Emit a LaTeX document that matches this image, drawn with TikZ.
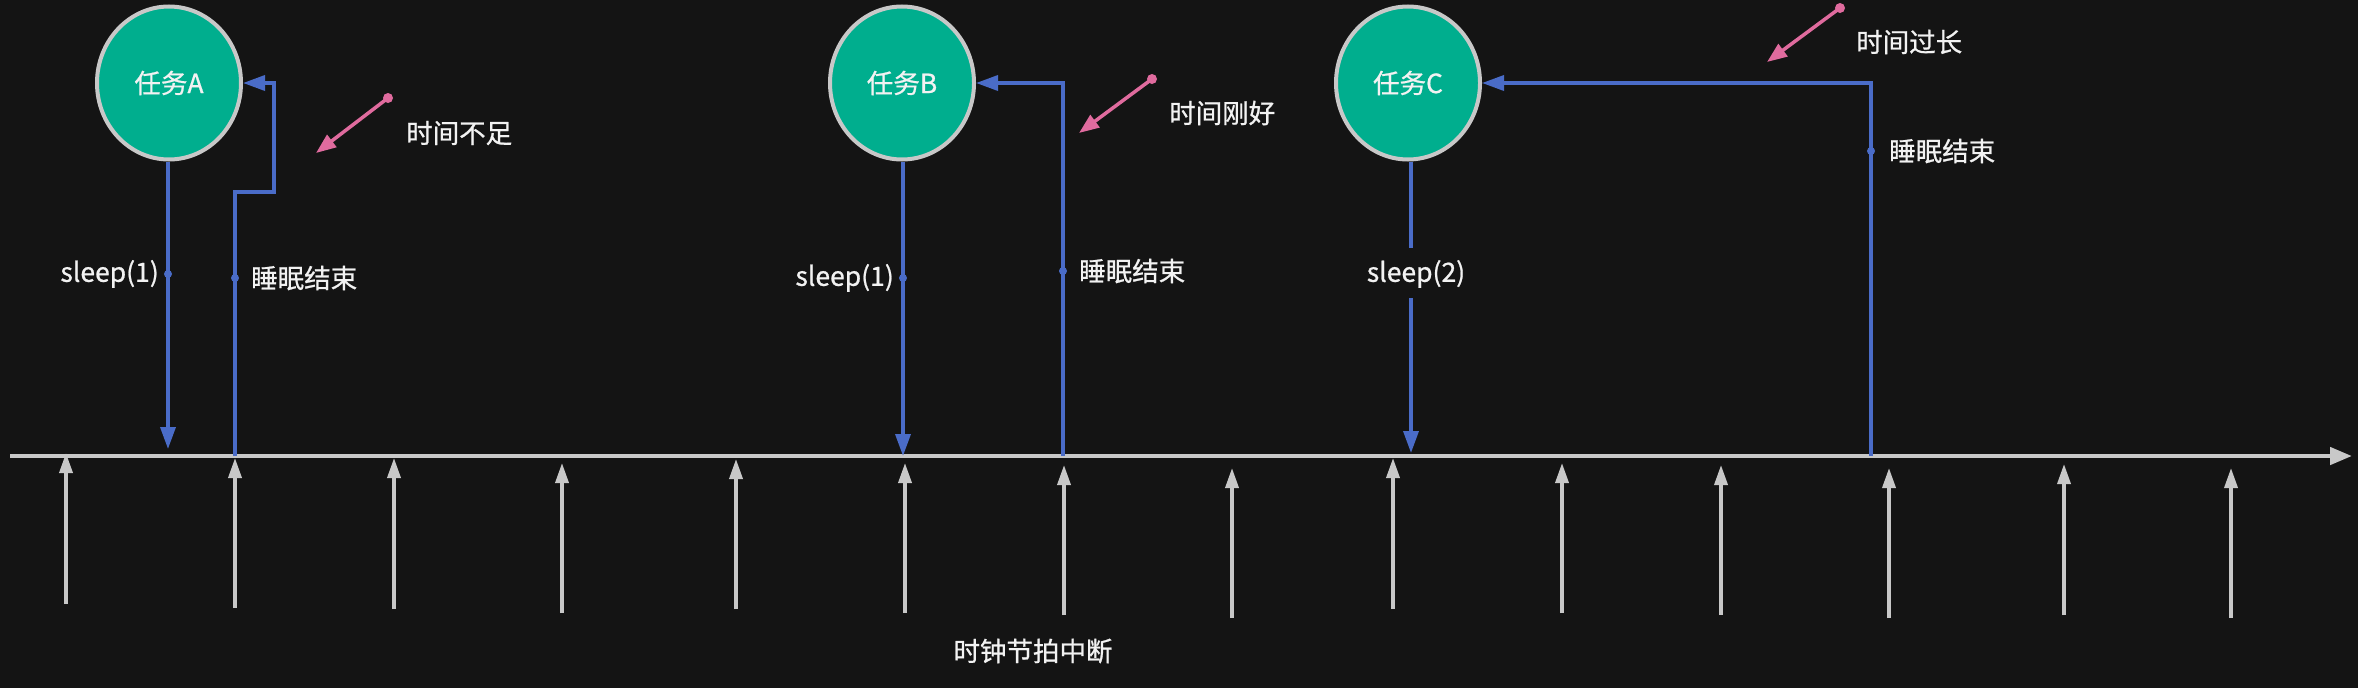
\documentclass[tikz,border=0pt]{standalone}
\usepackage{fontspec}
\setmainfont{Noto Sans CJK SC}[RawFeature={embolden=0.8}]
\usetikzlibrary{arrows.meta,shapes.geometric}
\definecolor{bg}{HTML}{141414}
\definecolor{tealc}{HTML}{00AE8E}
\definecolor{ring}{HTML}{C8C8C8}
\definecolor{bluec}{HTML}{4A6CC8}
\definecolor{pinkc}{HTML}{E06B9E}
\definecolor{grayc}{HTML}{C8C8C8}
\definecolor{txt}{HTML}{F2F2F2}
\begin{document}
\begin{tikzpicture}[x=1pt,y=-1pt,
  every node/.style={font=\fontsize{26.5}{30}\selectfont, text=txt, inner sep=0pt},
  task/.style={ellipse, draw=ring, line width=4pt, fill=tealc, minimum width=144, minimum height=153, inner sep=0pt},
  flow/.style={draw=bluec, line width=3.5pt},
  flowarrow/.style={flow, -{Triangle[length=22pt,width=15pt]}},
  tickarrow/.style={draw=grayc, line width=3.5pt, -{Triangle[length=20pt,width=13pt]}},
  axis/.style={draw=grayc, line width=4.5pt, -{Triangle[length=22pt,width=17pt]}},
  pinkarrow/.style={draw=pinkc, line width=3.5pt, -{Triangle[length=20pt,width=15pt]}},
  bdot/.style={fill=bluec},
  pdot/.style={fill=pinkc}
]
\fill[bg] (0,0) rectangle (2358,688);
\useasboundingbox (0,0) rectangle (2358,688);

% timeline
\coordinate (tl0) at (10,456);
\coordinate (tl1) at (2352,456);
\draw[axis] (tl0) -- (tl1);

% clock ticks
\foreach \i/\x/\t/\b in {1/66/453/604, 2/235/458/608, 3/394/458/609, 4/562/463/613, 5/736/459/609,
  6/905/463/613, 7/1064/465/615, 8/1232/468/618, 9/1393/458/609, 10/1562/463/613,
  11/1721/465/615, 12/1889/468/618, 13/2064/464/615, 14/2231/468/618} {
  \coordinate (tb\i) at (\x,\b);
  \coordinate (tt\i) at (\x,\t);
  \draw[tickarrow] (tb\i) -- (tt\i);
}
\node (clk) at (1033,651) {时钟节拍中断};

% tasks
\node[task] (A) at (169,83) {任务A};
\node[task] (B) at (902,83) {任务B};
\node[task] (C) at (1408,83) {任务C};

% task A
\coordinate (Aend) at (168,449);
\draw[flowarrow] (A.south -| Aend) -- (Aend);
\coordinate (Ar0) at (235,456);
\coordinate (Ar1) at (235,192);
\coordinate (Ar2) at (274,192);
\draw[flowarrow] (Ar0) -- (Ar1) -- (Ar2) |- (A.east);
\coordinate (Ad1) at (168,274);
\coordinate (Ad2) at (235,278);
\fill[bdot] (Ad1) circle (4);
\fill[bdot] (Ad2) circle (4);
\node[anchor=east] (As) at (159,274) {sleep(1)};
\node[anchor=west] (Ae) at (251,278) {睡眠结束};
\coordinate (Ap0) at (388,98);
\coordinate (Ap1) at (316,153);
\fill[pdot] (Ap0) circle (5);
\draw[pinkarrow] (Ap0) -- (Ap1);
\node[anchor=west] (Al) at (406,133) {时间不足};

% task B
\coordinate (Bend) at (903,456);
\draw[flowarrow] (B.south -| Bend) -- (Bend);
\coordinate (Br0) at (1063,456);
\draw[flowarrow] (Br0) |- (B.east);
\coordinate (Bd1) at (903,278);
\coordinate (Bd2) at (1063,271);
\fill[bdot] (Bd1) circle (4);
\fill[bdot] (Bd2) circle (4);
\node[anchor=east] (Bs) at (894,278) {sleep(1)};
\node[anchor=west] (Be) at (1079,271) {睡眠结束};
\coordinate (Bp0) at (1152,79);
\coordinate (Bp1) at (1079,133);
\fill[pdot] (Bp0) circle (5);
\draw[pinkarrow] (Bp0) -- (Bp1);
\node[anchor=west] (Bl) at (1169,113) {时间刚好};

% task C
\node (Cs) at (1416,274) {sleep(2)};
\coordinate (Cg0) at (1411,248);
\coordinate (Cg1) at (1411,298);
\coordinate (Cend) at (1411,453);
\draw[flow] (C.south -| Cg0) -- (Cg0);
\draw[flowarrow] (Cg1) -- (Cend);
\coordinate (Cr0) at (1871,456);
\draw[flowarrow] (Cr0) |- (C.east);
\coordinate (Cd2) at (1871,151);
\fill[bdot] (Cd2) circle (4);
\node[anchor=west] (Ce) at (1889,151) {睡眠结束};
\coordinate (Cp0) at (1840,8);
\coordinate (Cp1) at (1767,62);
\fill[pdot] (Cp0) circle (5);
\draw[pinkarrow] (Cp0) -- (Cp1);
\node[anchor=west] (Cl) at (1856,42) {时间过长};
\end{tikzpicture}
\end{document}
